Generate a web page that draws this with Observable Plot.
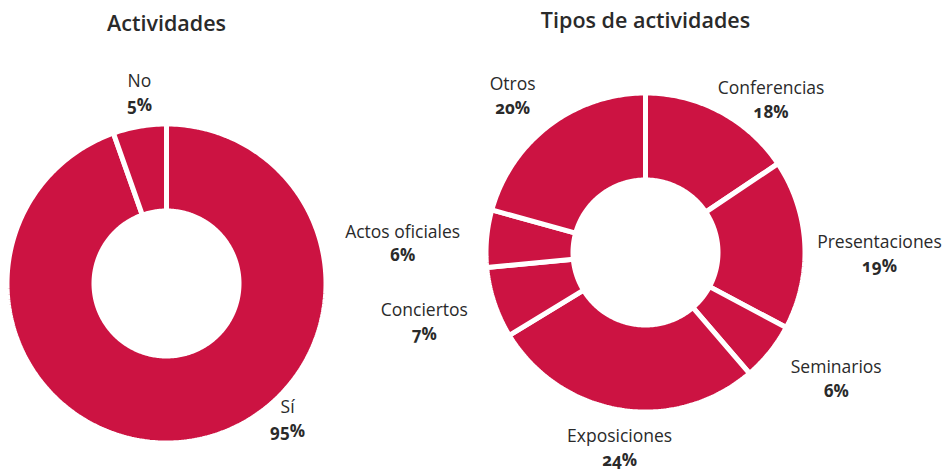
<!DOCTYPE html>
<html><head><meta charset="utf-8">
<script src="https://cdn.jsdelivr.net/npm/d3@7"></script>
<script src="https://cdn.jsdelivr.net/npm/@observablehq/plot@0.6"></script>
<style>
html,body{margin:0;padding:0;background:#fff;}
svg{display:block;}
.pct{font-feature-settings:"onum" 1;font-variant-numeric:oldstyle-nums;}
</style></head><body><div id="chart"></div>
<script>
// ---- data ----
const titles = ["Actividades", "Tipos de actividades"];
const actividadesCategories = ["Sí", "No"];
const actividadesValues = [94.6, 5.4];          // arc shares as drawn
const actividadesLabels = ["95%", "5%"];         // printed labels
const tiposCategories = ["Conferencias", "Presentaciones", "Seminarios", "Exposiciones", "Conciertos", "Actos oficiales", "Otros"];
const tiposValues = [15.6, 17.2, 5.9, 27.6, 7.2, 5.8, 20.7];   // arc shares as drawn
const tiposLabels = ["18%", "19%", "6%", "24%", "7%", "6%", "20%"];

// ---- layout (pixels) ----
const COLOR = "#cc1342";
const TEXT = "#2a2a2a";
const GAP = 5;
const charts = [
  {title: titles[0], cats: actividadesCategories, vals: actividadesValues, labs: actividadesLabels,
   cx: 166, cy: 283, r0: 75, r1: 157, titleY: 24,
   labelPos: [[138.3, 182], [351.9, 192]]},
  {title: titles[1], cats: tiposCategories, vals: tiposValues, labs: tiposLabels,
   cx: 645, cy: 252, r0: 75, r1: 157, titleY: 21,
   labelPos: [[39.6, 197], [90.5, 234], [123.6, 229], [187.5, 198], [252.4, 232], [272, 243], [319.6, 205]]}
];

const slicePts = [];
const labelRows = [];
const titleRows = [];
charts.forEach((c, ci) => {
  titleRows.push({x: c.cx, y: c.titleY, text: c.title});
  const arcs = d3.pie().sort(null).value(d => d)(c.vals);
  const ro = c.r1 + GAP / 2, ri = c.r0 - GAP / 2;
  arcs.forEach((a, i) => {
    const key = ci + "-" + i;
    const n = Math.max(8, Math.ceil((a.endAngle - a.startAngle) * 60));
    const pts = [];
    for (let k = 0; k <= n; k++) {
      const t = a.startAngle + (a.endAngle - a.startAngle) * k / n;
      pts.push([c.cx + ro * Math.sin(t), c.cy - ro * Math.cos(t)]);
    }
    for (let k = n; k >= 0; k--) {
      const t = a.startAngle + (a.endAngle - a.startAngle) * k / n;
      pts.push([c.cx + ri * Math.sin(t), c.cy - ri * Math.cos(t)]);
    }
    pts.push(pts[0]);
    pts.forEach(p => slicePts.push({key, x: p[0], y: p[1]}));
    const [ang, dist] = c.labelPos[i];
    const rad = ang * Math.PI / 180;
    labelRows.push({x: c.cx + dist * Math.sin(rad), y: c.cy - dist * Math.cos(rad), name: c.cats[i], pct: c.labs[i]});
  });
});

const font = "'Open Sans', 'Noto Sans', sans-serif";
const plot = Plot.plot({
  width: 946, height: 470,
  margin: 0,
  x: {domain: [0, 946], range: [0, 946], axis: null},
  y: {domain: [0, 470], range: [0, 470], axis: null},
  style: {fontFamily: font, background: "#fff"},
  marks: [
    Plot.line(slicePts, {x: "x", y: "y", z: "key", fill: COLOR, stroke: "white", strokeWidth: GAP, strokeLinejoin: "miter", curve: "linear"}),
    Plot.text(titleRows, {x: "x", y: "y", text: "text", fontSize: 21.5, fontWeight: 600, fill: TEXT}),
    Plot.text(labelRows, {x: "x", y: "y", text: "name", dy: -12, fontSize: 17.5, fill: TEXT}),
    Plot.text(labelRows, {x: "x", y: "y", text: "pct", dy: 12, fontSize: 17, fontWeight: "bold", fill: TEXT, className: "pct"})
  ]
});
document.getElementById("chart").appendChild(plot);
</script>
</body></html>
